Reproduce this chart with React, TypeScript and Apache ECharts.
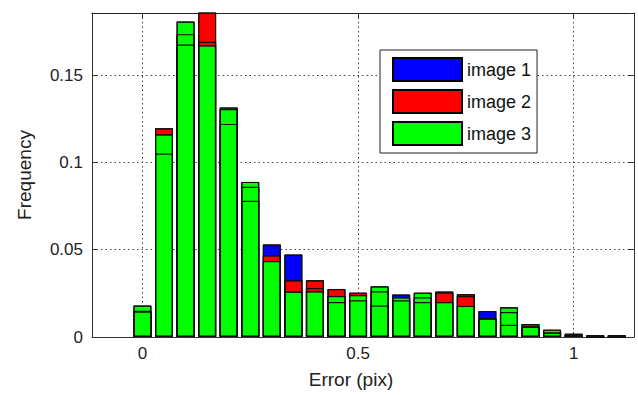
import React, { useEffect, useRef } from "react";
import * as echarts from "echarts";

const binCenters = [0, 0.05, 0.1, 0.15, 0.2, 0.25, 0.3, 0.35, 0.4, 0.45, 0.5, 0.55, 0.6, 0.65, 0.7, 0.75, 0.8, 0.85, 0.9, 0.95, 1.0, 1.05, 1.1];
const image1 = [0.015, 0.105, 0.1675, 0.169, 0.122, 0.078, 0.053, 0.0472, 0.028, 0.020, 0.021, 0.0262, 0.0243, 0.020, 0.0255, 0.0235, 0.0149, 0.007, 0.0058, 0.0025, 0.0008, 0.0011, 0];
const image2 = [0.0145, 0.1195, 0.1734, 0.19, 0.1305, 0.086, 0.0468, 0.0325, 0.0325, 0.0275, 0.0254, 0.018, 0.021, 0.0227, 0.026, 0.0245, 0.0105, 0.0143, 0.0074, 0.0027, 0.0019, 0, 0.0011];
const image3 = [0.018, 0.116, 0.1806, 0.167, 0.1314, 0.0888, 0.0435, 0.026, 0.0262, 0.0235, 0.024, 0.029, 0.0227, 0.0254, 0.020, 0.0178, 0.0107, 0.017, 0.006, 0.0042, 0.001, 0, 0];
const xTicks = [0, 0.5, 1];
const seriesNames = ["image 1", "image 2", "image 3"];
const seriesColors = ["#0000ff", "#ff0000", "#00ff00"];

const FONT = "Liberation Sans, Arial, Helvetica, sans-serif";

export default function App() {
  const ref = useRef<HTMLDivElement>(null);
  useEffect(() => {
    if (!ref.current) return;
    const chart = echarts.init(ref.current, null, { renderer: "svg" });
    const all = [image1, image2, image3];
    const toPairs = (arr: number[]) => binCenters.map((x, i) => [x, arr[i]]);
    const colored = all.map((arr, k) => ({
      name: seriesNames[k],
      type: "bar",
      xAxisIndex: 0,
      yAxisIndex: 0,
      data: toPairs(arr),
      barWidth: 18,
      barGap: "-100%",
      clip: true,
      itemStyle: { color: seriesColors[k], borderColor: "#000", borderWidth: 1 },
      emphasis: { disabled: true },
    }));
    const outlines = all.map((arr, k) => ({
      name: "outline" + k,
      type: "bar",
      xAxisIndex: 0,
      yAxisIndex: 0,
      data: toPairs(arr),
      barWidth: 18,
      barGap: "-100%",
      clip: true,
      silent: true,
      itemStyle: { color: "rgba(0,0,0,0)", borderColor: "#111", borderWidth: 1.2 },
      emphasis: { disabled: true },
    }));
    const xMin = -0.117;
    const xMax = 1.14;
    const yMax = 0.1855;
    const option = {
      animation: false,
      textStyle: { fontFamily: FONT },
      grid: { left: 92, right: 4, top: 13, bottom: 58 },
      legend: {
        data: seriesNames,
        left: 380,
        top: 50,
        orient: "vertical",
        itemWidth: 69,
        itemHeight: 23,
        itemGap: 7,
        padding: [7, 6, 7, 12],
        backgroundColor: "#fff",
        borderColor: "#222",
        borderWidth: 1,
        icon: "rect",
        selectedMode: false,
        textStyle: { fontSize: 18, color: "#111", fontFamily: FONT },
      },
      xAxis: [
        {
          type: "value",
          min: xMin,
          max: xMax,
          position: "bottom",
          name: "Error (pix)",
          nameLocation: "middle",
          nameGap: 33,
          nameTextStyle: { fontSize: 19, color: "#222", fontFamily: FONT, padding: [0, 24, 0, 0] },
          axisLine: { show: true, onZero: false, lineStyle: { color: "#333", width: 1 } },
          axisTick: { show: true, inside: true, length: 5, customValues: xTicks, lineStyle: { color: "#333" } },
          axisLabel: { customValues: xTicks, fontSize: 17, color: "#222", margin: 8, fontFamily: FONT },
          splitLine: { show: true, lineStyle: { color: "#444", type: [1.5, 3], width: 1 } },
        },
        {
          type: "value",
          min: xMin,
          max: xMax,
          position: "top",
          axisLine: { show: true, onZero: false, lineStyle: { color: "#222", width: 1.2 } },
          axisTick: { show: true, inside: true, length: 5, customValues: xTicks, lineStyle: { color: "#333" } },
          axisLabel: { show: false },
          splitLine: { show: false },
        },
      ],
      yAxis: [
        {
          type: "value",
          min: 0,
          max: yMax,
          interval: 0.05,
          position: "left",
          name: "Frequency",
          nameLocation: "middle",
          nameGap: 58,
          nameTextStyle: { fontSize: 19, color: "#222", fontFamily: FONT },
          axisLine: { show: true, onZero: false, lineStyle: { color: "#333", width: 1 } },
          axisTick: { show: true, inside: true, length: 5, lineStyle: { color: "#333" } },
          axisLabel: { fontSize: 17, color: "#222", margin: 9, showMaxLabel: false, fontFamily: FONT },
          splitLine: { show: true, lineStyle: { color: "#444", type: [1.5, 3], width: 1 } },
        },
        {
          type: "value",
          min: 0,
          max: yMax,
          interval: 0.05,
          position: "right",
          axisLine: { show: true, onZero: false, lineStyle: { color: "#333", width: 1 } },
          axisTick: { show: true, inside: true, length: 5, lineStyle: { color: "#333" } },
          axisLabel: { show: false },
          splitLine: { show: false },
        },
      ],
      series: [...colored, ...outlines],
    };
    chart.setOption(option as any);
    return () => chart.dispose();
  }, []);
  return <div ref={ref} style={{ position: "fixed", left: 0, top: 0, width: 638, height: 395, background: "#fff" }} />;
}
